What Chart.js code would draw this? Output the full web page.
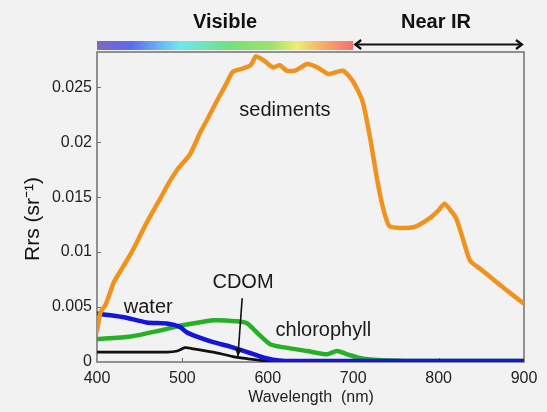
<!DOCTYPE html>
<html><head><meta charset="utf-8">
<script src="https://cdn.jsdelivr.net/npm/chart.js@4.4.1/dist/chart.umd.min.js"></script>
<style>html,body{margin:0;padding:0;background:#f2f2f2;}canvas{display:block;}</style>
</head><body>
<canvas id="c" width="547" height="412"></canvas>
<script>
// ---- data ----
const xTicks = [400, 500, 600, 700, 800, 900];
const yTicks = [0, 0.005, 0.01, 0.015, 0.02, 0.025];
const yTickLabels = ['0', '0.005', '0.01', '0.015', '0.02', '0.025'];

const sedimentsWl  = [400,404,410,420,430,440,448,455,464,475,485,495,509,521,530,540,550,559,571,580,586,594,606,614,622,632,646,658,671,688,700,711,720,728,735,742,755,772,788,800,807,815,821,830,837,850,864,880,900];
const sedimentsRrs = [.0028,.0045,.0052,.0073,.0086,.0099,.0111,.0122,.0135,.0150,.0164,.0176,.0189,.0209,.0222,.0237,.0251,.0264,.0267,.0270,.0278,.0275,.0268,.0270,.0265,.0265,.0271,.0268,.0262,.0265,.0255,.0237,.0203,.0166,.0140,.0124,.0122,.0123,.0130,.0138,.0144,.0137,.0130,.0108,.0092,.0084,.0075,.0065,.0053];

const waterWl  = [400,430,458,482,497,505,517,536,556,576,591,606,620,700,900];
const waterRrs = [.0044,.0041,.0036,.0035,.0032,.0027,.0023,.0018,.0014,.0009,.0005,.0002,.0001,.0001,.0001];

const chlorophyllWl  = [400,438,470,497,512,536,564,576,587,603,614,646,669,681,693,712,724,760,900];
const chlorophyllRrs = [.0021,.0023,.0028,.0033,.0035,.0038,.0037,.0035,.0027,.0016,.0014,.0010,.0007,.0010,.0007,.0003,.0002,.0001,.0001];

const cdomWl  = [400,482,494,503,513,536,559,576,599,640];
const cdomRrs = [.0009,.0009,.0010,.0013,.0012,.0009,.0005,.0003,.0001,.0001];

const seriesLabels = ['sediments', 'water', 'chlorophyll', 'CDOM'];

function pts(xs, ys) { return xs.map((x, i) => ({x: x, y: ys[i]})); }

const FONT = "'Liberation Sans', Arial, Helvetica, sans-serif";
const BG = '#f2f2f2';

const decor = {
  id: 'decor',
  beforeDraw(chart) {
    const ctx = chart.ctx;
    ctx.save();
    ctx.fillStyle = BG;
    ctx.fillRect(0, 0, chart.width, chart.height);
    ctx.restore();
  },
  beforeDatasetsDraw(chart) {
    const {ctx, chartArea: a, scales: {x, y}} = chart;
    ctx.save();
    ctx.strokeStyle = '#707070';
    ctx.lineWidth = 1.5;
    ctx.strokeRect(a.left, a.top, a.right - a.left, a.bottom - a.top);
    ctx.lineWidth = 1;
    ctx.beginPath();
    yTicks.slice(1).forEach(v => { const py = Math.round(y.getPixelForValue(v)) + 0.5; ctx.moveTo(a.left, py); ctx.lineTo(a.left + 4, py); });
    xTicks.slice(1, -1).forEach(v => { const px = Math.round(x.getPixelForValue(v)) + 0.5; ctx.moveTo(px, a.bottom); ctx.lineTo(px, a.bottom - 4); });
    ctx.stroke();
    ctx.restore();
  },
  afterDraw(chart) {
    const {ctx, chartArea: a, scales: {x, y}} = chart;
    ctx.save();
    // spectrum bar over the visible range
    const x0 = x.getPixelForValue(400), x1 = x.getPixelForValue(700), x2 = x.getPixelForValue(900);
    const g = ctx.createLinearGradient(x0, 0, x1, 0);
    g.addColorStop(0.00, '#8068c0');
    g.addColorStop(0.13, '#5b6af2');
    g.addColorStop(0.32, '#6ee6f2');
    g.addColorStop(0.52, '#74e07a');
    g.addColorStop(0.68, '#9ee26a');
    g.addColorStop(0.78, '#eeee72');
    g.addColorStop(0.89, '#f8a868');
    g.addColorStop(1.00, '#f27070');
    ctx.fillStyle = g;
    ctx.fillRect(x0, 41, x1 - x0, 9);
    // Near IR double arrow
    const ay = 44.5;
    ctx.strokeStyle = '#111'; ctx.fillStyle = '#111'; ctx.lineWidth = 2;
    ctx.beginPath(); ctx.moveTo(x1 + 3, ay); ctx.lineTo(x2 - 3, ay); ctx.stroke();
    ctx.lineWidth = 2.2; ctx.lineJoin = 'miter';
    ctx.beginPath(); ctx.moveTo(x1 + 8, ay - 4.5); ctx.lineTo(x1 + 2, ay); ctx.lineTo(x1 + 8, ay + 4.5); ctx.stroke();
    ctx.beginPath(); ctx.moveTo(x2 - 8, ay - 4.5); ctx.lineTo(x2 - 2, ay); ctx.lineTo(x2 - 8, ay + 4.5); ctx.stroke();

    ctx.fillStyle = '#111';
    ctx.textAlign = 'center'; ctx.textBaseline = 'middle';
    ctx.font = 'bold 20px ' + FONT;
    ctx.fillText('Visible', 225, 22);
    ctx.fillText('Near IR', 436, 22);

    // axis titles
    ctx.font = '16px ' + FONT;
    ctx.fillStyle = '#222';
    ctx.fillText('Wavelength  (nm)', 311, 398);
    ctx.save();
    ctx.translate(33, 219);
    ctx.rotate(-Math.PI / 2);
    ctx.font = '21px ' + FONT;
    ctx.fillStyle = '#111';
    ctx.fillText('Rrs (sr\u207B\u00B9)', 0, 0);
    ctx.restore();

    // series annotations
    ctx.font = '20px ' + FONT;
    ctx.fillStyle = '#1a1a1a';
    ctx.fillText(seriesLabels[0], x.getPixelForValue(620), y.getPixelForValue(0.0229));
    ctx.fillText(seriesLabels[1], x.getPixelForValue(460), y.getPixelForValue(0.0050));
    ctx.fillText(seriesLabels[2], x.getPixelForValue(665), y.getPixelForValue(0.0029));
    ctx.fillText(seriesLabels[3], x.getPixelForValue(571), y.getPixelForValue(0.0072));
    // CDOM arrow
    const sx = x.getPixelForValue(570), sy = y.getPixelForValue(0.0058);
    const ex = x.getPixelForValue(565), ey = y.getPixelForValue(0.0005);
    ctx.strokeStyle = '#111'; ctx.lineWidth = 1.6;
    ctx.beginPath(); ctx.moveTo(sx, sy); ctx.lineTo(ex, ey); ctx.stroke();
    const ang = Math.atan2(ey - sy, ex - sx);
    ctx.fillStyle = '#111';
    ctx.beginPath();
    ctx.moveTo(ex, ey);
    ctx.lineTo(ex - 8 * Math.cos(ang) + 3.5 * Math.sin(ang), ey - 8 * Math.sin(ang) - 3.5 * Math.cos(ang));
    ctx.lineTo(ex - 8 * Math.cos(ang) - 3.5 * Math.sin(ang), ey - 8 * Math.sin(ang) + 3.5 * Math.cos(ang));
    ctx.closePath(); ctx.fill();
    ctx.restore();
  }
};

const lineDefaults = {pointRadius: 0, fill: false, tension: 0.2, borderCapStyle: 'round', borderJoinStyle: 'round'};

new Chart(document.getElementById('c'), {
  type: 'line',
  data: {
    datasets: [
      Object.assign({label: seriesLabels[0], data: pts(sedimentsWl, sedimentsRrs), borderColor: '#f0921e', borderWidth: 4.5, order: 0}, lineDefaults),
      Object.assign({label: seriesLabels[1], data: pts(waterWl, waterRrs), borderColor: '#1414dc', borderWidth: 4.5, order: 1}, lineDefaults),
      Object.assign({label: seriesLabels[3], data: pts(cdomWl, cdomRrs), borderColor: '#111111', borderWidth: 2.8, order: 2}, lineDefaults),
      Object.assign({label: seriesLabels[2], data: pts(chlorophyllWl, chlorophyllRrs), borderColor: '#26b026', borderWidth: 4.5, order: 3}, lineDefaults)
    ]
  },
  options: {
    responsive: false,
    animation: false,
    events: [],
    layout: {padding: {left: 0, top: 52, right: 23, bottom: 0}},
    plugins: {legend: {display: false}, tooltip: {enabled: false}},
    scales: {
      x: {
        type: 'linear', min: 400, max: 900,
        border: {display: false},
        grid: {display: false, drawTicks: false},
        afterBuildTicks: s => { s.ticks = xTicks.map(v => ({value: v})); },
        afterFit: s => { s.height = 50; },
        ticks: {padding: 7, color: '#222', font: {family: FONT, size: 16}, maxRotation: 0, autoSkip: false}
      },
      y: {
        type: 'linear', min: 0, max: 0.0282,
        border: {display: false},
        grid: {display: false, drawTicks: false},
        afterBuildTicks: s => { s.ticks = yTicks.map(v => ({value: v})); },
        afterFit: s => { s.width = 97; },
        ticks: {padding: 5, color: '#222', font: {family: FONT, size: 16},
          callback: (v) => { const i = yTicks.indexOf(v); return i >= 0 ? yTickLabels[i] : ''; }}
      }
    }
  },
  plugins: [decor]
});
</script>
</body></html>
